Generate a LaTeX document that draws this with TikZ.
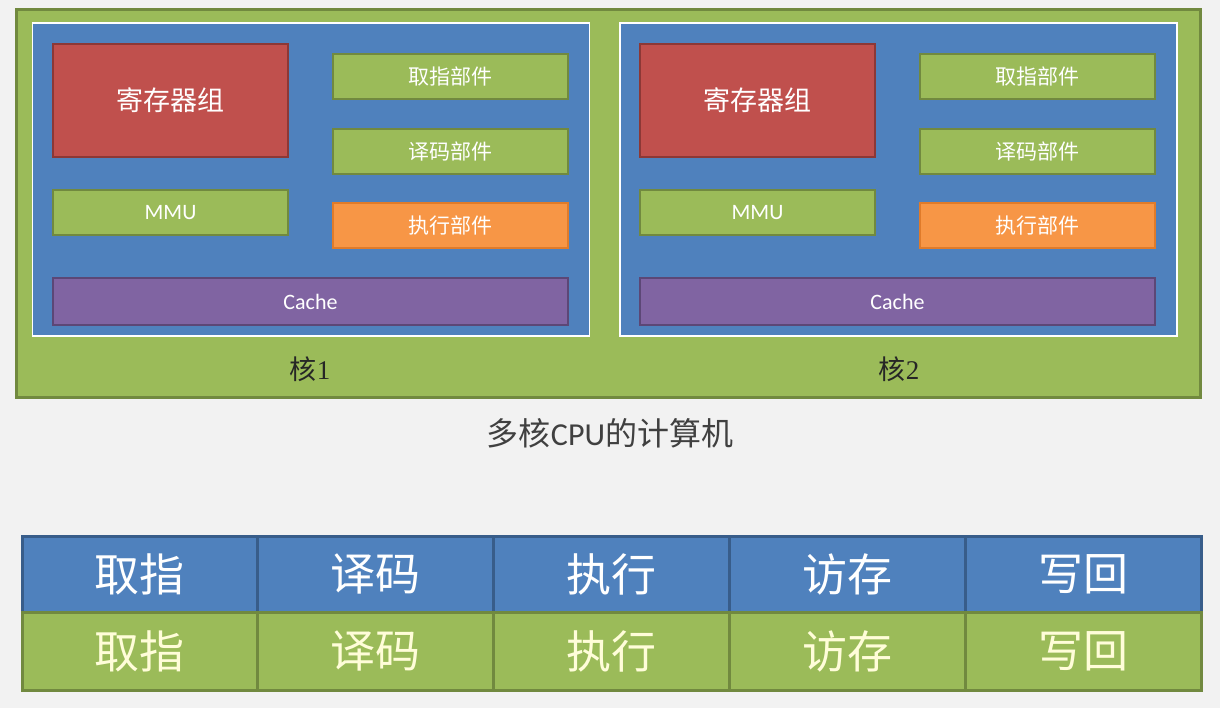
\documentclass[tikz,border=0pt]{standalone}
\usepackage{fontspec}
\setmainfont{Carlito}
\newfontfamily\cjk{Noto Sans CJK SC}
\definecolor{pagebg}{HTML}{F2F2F2}
\definecolor{offgreen}{HTML}{9BBB59}
\definecolor{offgreendk}{HTML}{71893F}
\definecolor{offblue}{HTML}{4F81BD}
\definecolor{offbluedk}{HTML}{385D8A}
\definecolor{offred}{HTML}{C0504D}
\definecolor{offreddk}{HTML}{8C3836}
\definecolor{offorange}{HTML}{F79646}
\definecolor{offorangedk}{HTML}{E07B2A}
\definecolor{offpurple}{HTML}{8064A2}
\definecolor{offpurpledk}{HTML}{5C4776}

\begin{document}
\begin{tikzpicture}
  [x=1pt,y=-1pt,
   box/.style={rectangle,inner sep=0pt,text=white,line width=2pt},
   unit/.style={box,fill=offgreen,draw=offgreendk,minimum width=235pt,minimum height=45pt,font=\cjk\fontsize{21}{21}\selectfont},
   regs/.style={box,fill=offred,draw=offreddk,minimum width=235pt,minimum height=113pt,font=\cjk\fontsize{27}{27}\selectfont},
   exec/.style={unit,fill=offorange,draw=offorangedk},
   cache/.style={box,fill=offpurple,draw=offpurpledk,minimum width=515pt,minimum height=47pt,font=\fontsize{22}{22}\selectfont},
   core/.style={box,fill=offblue,draw=white,line width=1.2pt,minimum width=557pt,minimum height=313pt},
   corelabel/.style={font=\cjk\fontsize{27}{27}\selectfont,text=black!85},
   bluecell/.style={box,fill=offblue,draw=offbluedk,line width=3pt,minimum width=235.8pt,minimum height=76pt,font=\cjk\fontsize{45}{45}\selectfont},
   greencell/.style={bluecell,fill=offgreen,draw=offgreendk,minimum height=78pt,text=white!85!yellow}]
  \fill[pagebg] (0,0) rectangle (1220,708);

  % the computer
  \node[box,fill=offgreen,draw=offgreendk,line width=3pt,minimum width=1184pt,minimum height=387pt] (cpu) at (608,203.5) {};
  \node[core] (core1) at (311,179.5) {};
  \node[core] (core2) at (898.5,179.5) {};

  % core 1
  \node[regs] (regs1) at (170.5,100.5) {寄存器组};
  \node[unit] (fetch1) at (450.5,76.5) {取指部件};
  \node[unit] (decode1) at (450.5,151.5) {译码部件};
  \node[exec] (exec1) at (450.5,226) {执行部件};
  \node[unit,font=\fontsize{22}{22}\selectfont] (mmu1) at (170.5,212.5) {MMU};
  \node[cache] (cache1) at (310.5,301.5) {Cache};
  \node[corelabel] (lab1) at (310,369) {核\fontspec{Liberation Serif}1};

  % core 2
  \node[regs] (regs2) at (757.5,100.5) {寄存器组};
  \node[unit] (fetch2) at (1037.5,76.5) {取指部件};
  \node[unit] (decode2) at (1037.5,151.5) {译码部件};
  \node[exec] (exec2) at (1037.5,226) {执行部件};
  \node[unit,font=\fontsize{22}{22}\selectfont] (mmu2) at (757.5,212.5) {MMU};
  \node[cache] (cache2) at (897.5,301.5) {Cache};
  \node[corelabel] (lab2) at (899,369) {核\fontspec{Liberation Serif}2};

  \node[font=\fontsize{32}{32}\selectfont,text=black!75] (title) at (610,433) {{\cjk 多核}CPU{\cjk 的计算机}};

  % pipeline
  \node[bluecell] (b1) at (139.9,574) {取指};
  \node[bluecell] (b2) at (375.7,574) {译码};
  \node[bluecell] (b3) at (611.5,574) {执行};
  \node[bluecell] (b4) at (847.3,574) {访存};
  \node[bluecell] (b5) at (1083.1,574) {写回};

  \node[greencell] (g1) at (139.9,651) {取指};
  \node[greencell] (g2) at (375.7,651) {译码};
  \node[greencell] (g3) at (611.5,651) {执行};
  \node[greencell] (g4) at (847.3,651) {访存};
  \node[greencell] (g5) at (1083.1,651) {写回};
\end{tikzpicture}
\end{document}
